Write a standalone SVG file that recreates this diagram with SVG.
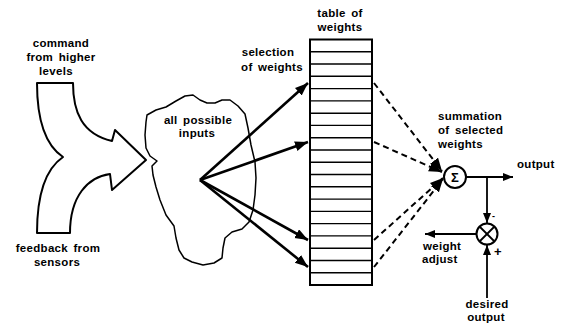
<svg xmlns="http://www.w3.org/2000/svg" width="562" height="323" viewBox="0 0 562 323">
<style>
text{font-family:"Liberation Sans",Arial,sans-serif;font-weight:bold;font-size:11.5px;fill:#000;letter-spacing:0.3px;word-spacing:2px}
.m{text-anchor:middle}
.sh{fill:none;stroke:#000;stroke-width:2;stroke-linejoin:round}
.thin{fill:none;stroke:#000;stroke-width:1.5;stroke-linejoin:round}
.solid{stroke:#000;stroke-width:2.6;fill:none}
.dash{stroke:#000;stroke-width:2;fill:none;stroke-dasharray:6 4}
.ln{stroke:#000;stroke-width:1.8;fill:none}
.row{stroke:#000;stroke-width:1.4}
</style>
<defs>
<marker id="ah" markerUnits="userSpaceOnUse" markerWidth="14" markerHeight="12" refX="13" refY="5" orient="auto">
<path d="M0,0 L13,5 L0,10 Z" fill="#000"/>
</marker>
<marker id="as" markerUnits="userSpaceOnUse" markerWidth="12" markerHeight="10" refX="10" refY="4" orient="auto">
<path d="M0,0 L10,4 L0,8 Z" fill="#000"/>
</marker>
</defs>

<g id="fork-arrow">
<path class="sh" d="M37,83 L73,83 C73,112 82,134 112,141 L115,130 L146,160 L112,190 L110,174 C88,177 70,196 70,233 L37,233 C37,200 44,170 63,157 C45,145 37,120 37,83 Z"/>
<text class="m" x="61" y="47">command</text>
<text class="m" x="61" y="61">from higher</text>
<text class="m" x="56" y="75">levels</text>
<text class="m" x="58" y="252">feedback from</text>
<text class="m" x="57" y="266">sensors</text>
</g>

<g id="inputs">
<path class="thin" d="M147,115 L156,110 L166,107 L176,101 L185,96 L193,95 L200,100 L207,103 L215,103 L222,100 L230,100 L238,106 L245,114 L248,128 L251,145 L255,162 L256,178 L255,195 L253,210 L249,222 L242,229 L232,232 L225,238 L223,248 L222,258 L214,263 L203,265 L192,262 L184,258 L179,250 L176,238 L174,226 L166,215 L160,200 L156,187 L153,175 L152,166 L157,161 L150,156 L146,148 L145,135 L146,122 Z"/>
<text class="m" x="198" y="124">all possible</text>
<text class="m" x="197" y="137">inputs</text>
</g>

<g id="table">
<rect x="310" y="39.5" width="62" height="245.5" fill="none" stroke="#000" stroke-width="2"/>
<g class="row">
<line x1="310" y1="51.8" x2="372" y2="51.8"/>
<line x1="310" y1="64.0" x2="372" y2="64.0"/>
<line x1="310" y1="76.3" x2="372" y2="76.3"/>
<line x1="310" y1="88.6" x2="372" y2="88.6"/>
<line x1="310" y1="100.9" x2="372" y2="100.9"/>
<line x1="310" y1="113.2" x2="372" y2="113.2"/>
<line x1="310" y1="125.4" x2="372" y2="125.4"/>
<line x1="310" y1="137.7" x2="372" y2="137.7"/>
<line x1="310" y1="150.0" x2="372" y2="150.0"/>
<line x1="310" y1="162.3" x2="372" y2="162.3"/>
<line x1="310" y1="174.5" x2="372" y2="174.5"/>
<line x1="310" y1="186.8" x2="372" y2="186.8"/>
<line x1="310" y1="199.1" x2="372" y2="199.1"/>
<line x1="310" y1="211.4" x2="372" y2="211.4"/>
<line x1="310" y1="223.6" x2="372" y2="223.6"/>
<line x1="310" y1="235.9" x2="372" y2="235.9"/>
<line x1="310" y1="248.2" x2="372" y2="248.2"/>
<line x1="310" y1="260.5" x2="372" y2="260.5"/>
<line x1="310" y1="272.7" x2="372" y2="272.7"/>
</g>
<text class="m" x="340" y="17">table of</text>
<text class="m" x="340" y="31">weights</text>
<text class="m" x="268" y="56">selection</text>
<text class="m" x="272" y="71">of weights</text>
</g>

<g id="sum">
<circle cx="455" cy="177" r="11" fill="#fff" stroke="#000" stroke-width="2"/>
<text class="m" x="455" y="182" style="font-size:13px;letter-spacing:0">Σ</text>
<text x="438" y="120">summation</text>
<text x="438" y="134">of selected</text>
<text x="438" y="148">weights</text>
</g>

<g id="compare">
<circle cx="487" cy="234" r="10.5" fill="#fff" stroke="#000" stroke-width="2"/>
<line class="ln" x1="480" y1="227" x2="494" y2="241"/>
<line class="ln" x1="494" y1="227" x2="480" y2="241"/>
<text x="492" y="219" style="font-size:9px">-</text>
<text x="494" y="256" style="font-size:13px">+</text>
</g>

<g id="labels">
<text x="517" y="168">output</text>
<text x="423" y="250">weight</text>
<text x="422" y="263">adjust</text>
<text class="m" x="487" y="308">desired</text>
<text class="m" x="486" y="321">output</text>
</g>

<g id="connectors">
<line class="solid" x1="200" y1="180" x2="308" y2="83" marker-end="url(#ah)"/>
<line class="solid" x1="200" y1="180" x2="308" y2="142" marker-end="url(#ah)"/>
<line class="solid" x1="200" y1="180" x2="308" y2="240" marker-end="url(#ah)"/>
<line class="solid" x1="200" y1="180" x2="308" y2="267" marker-end="url(#ah)"/>
<line class="dash" x1="374" y1="83" x2="442" y2="171" marker-end="url(#ah)"/>
<line class="dash" x1="374" y1="142" x2="442" y2="172" marker-end="url(#ah)"/>
<line class="dash" x1="374" y1="240" x2="443" y2="178" marker-end="url(#ah)"/>
<line class="dash" x1="374" y1="267" x2="443" y2="179" marker-end="url(#ah)"/>
<line class="ln" x1="466" y1="177" x2="513" y2="177" marker-end="url(#as)"/>
<line class="ln" x1="487" y1="177" x2="487" y2="223" marker-end="url(#as)"/>
<line class="ln" x1="476" y1="234" x2="425" y2="234" marker-end="url(#as)"/>
<line class="ln" x1="487" y1="298" x2="487" y2="245" marker-end="url(#as)"/>
</g>
</svg>
